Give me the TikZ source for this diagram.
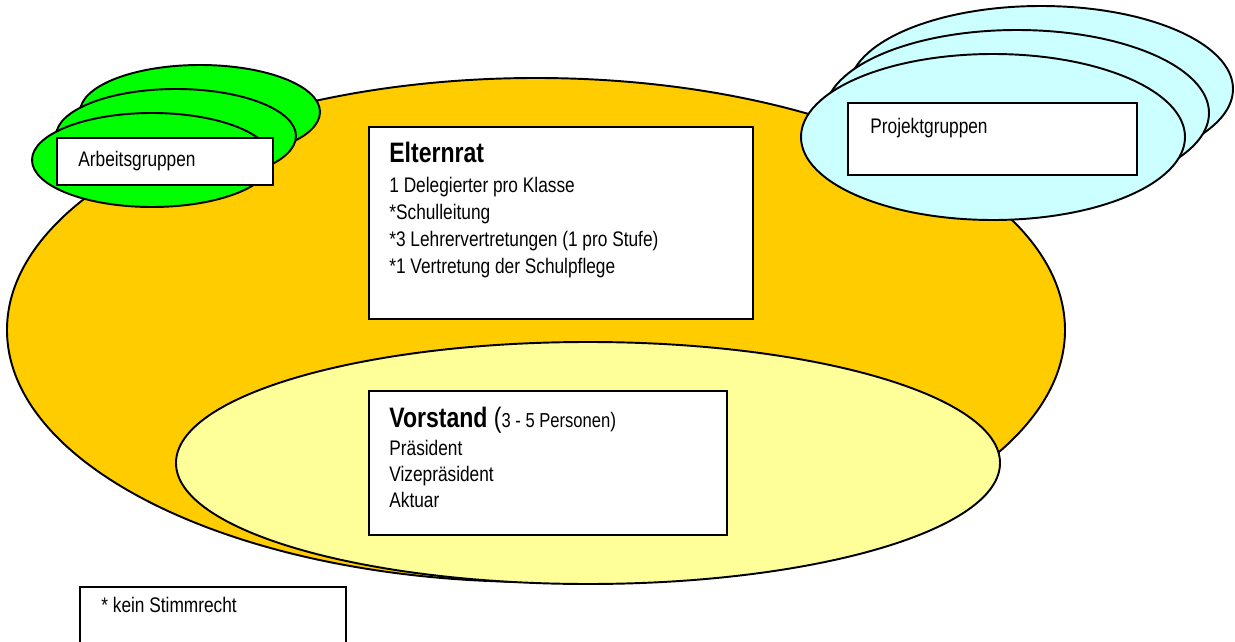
\documentclass[tikz,border=0pt]{standalone}
\usepackage{fontspec}
\setmainfont[FakeStretch=0.82]{Liberation Sans}
\definecolor{ratorange}{HTML}{FFCC00}
\definecolor{vorstandgelb}{HTML}{FFFF99}
\definecolor{arbeitgruen}{HTML}{00FF00}
\definecolor{projektblau}{HTML}{CCFFFF}

\begin{document}
\begin{tikzpicture}[x=0.02cm, y=-0.02cm,
  blob/.style={draw, line width=1.1pt},
  box/.style={draw, fill=white, line width=1.2pt, inner sep=0pt},
  txt/.style={inner sep=0pt, align=left, font=\fontsize{12}{15.3}\selectfont},
  ttl/.style={inner sep=0pt, font=\fontsize{16}{18}\selectfont\bfseries}]
\useasboundingbox (0,0) rectangle (1235,642);
\clip (0,0) rectangle (1235,642);
% Elternrat und Vorstand
\filldraw[blob, fill=ratorange] (536,330) ellipse [x radius=529, y radius=252];
\filldraw[blob, fill=vorstandgelb] (588,463) ellipse [x radius=412, y radius=121];
% Arbeitsgruppen
\foreach \i in {2,1,0}
  \filldraw[blob, fill=arbeitgruen] (152+24*\i,160-24*\i) ellipse [x radius=120, y radius=47];
% Projektgruppen
\foreach \i in {2,1,0}
  \filldraw[blob, fill=projektblau] (993+24*\i,137-24*\i) ellipse [x radius=192, y radius=83];
% Kaesten
\node[box, minimum width=4.32cm, minimum height=0.94cm] (AGBox) at (165,161.5) {};
\node[box, minimum width=7.68cm, minimum height=3.84cm] (ERBox) at (561,223) {};
\node[box, minimum width=7.16cm, minimum height=2.88cm] (VSBox) at (548,463) {};
\node[box, minimum width=5.78cm, minimum height=1.44cm] (PGBox) at (992.5,139) {};
\node[box, minimum width=5.32cm, minimum height=1.50cm] (KSBox) at (213,624.5) {};
% Texte
\node[txt, anchor=base west] (AGText) at (78,167) {Arbeitsgruppen};
\node[txt, anchor=base west] (PGText) at (870,133) {Projektgruppen};
\node[txt, anchor=base west] (KSText) at (101,612) {* kein Stimmrecht};
\node[ttl, anchor=base west] (ERTitle) at (389,163) {Elternrat};
\node[txt, anchor=north west] (ERText) at (389,177) {1 Delegierter pro Klasse\\*Schulleitung\\*3 Lehrervertretungen (1 pro Stufe)\\*1 Vertretung der Schulpflege};
\node[ttl, anchor=base west] (VSTitle) at (389,427) {Vorstand {\mdseries(\fontsize{11.5}{13}\selectfont 3 - 5 Personen\fontsize{12}{14}\selectfont)}};
\node[txt, anchor=north west, font=\fontsize{12}{14.7}\selectfont] (VSText) at (389,440) {Präsident\\Vizepräsident\\Aktuar};
\end{tikzpicture}
\end{document}
